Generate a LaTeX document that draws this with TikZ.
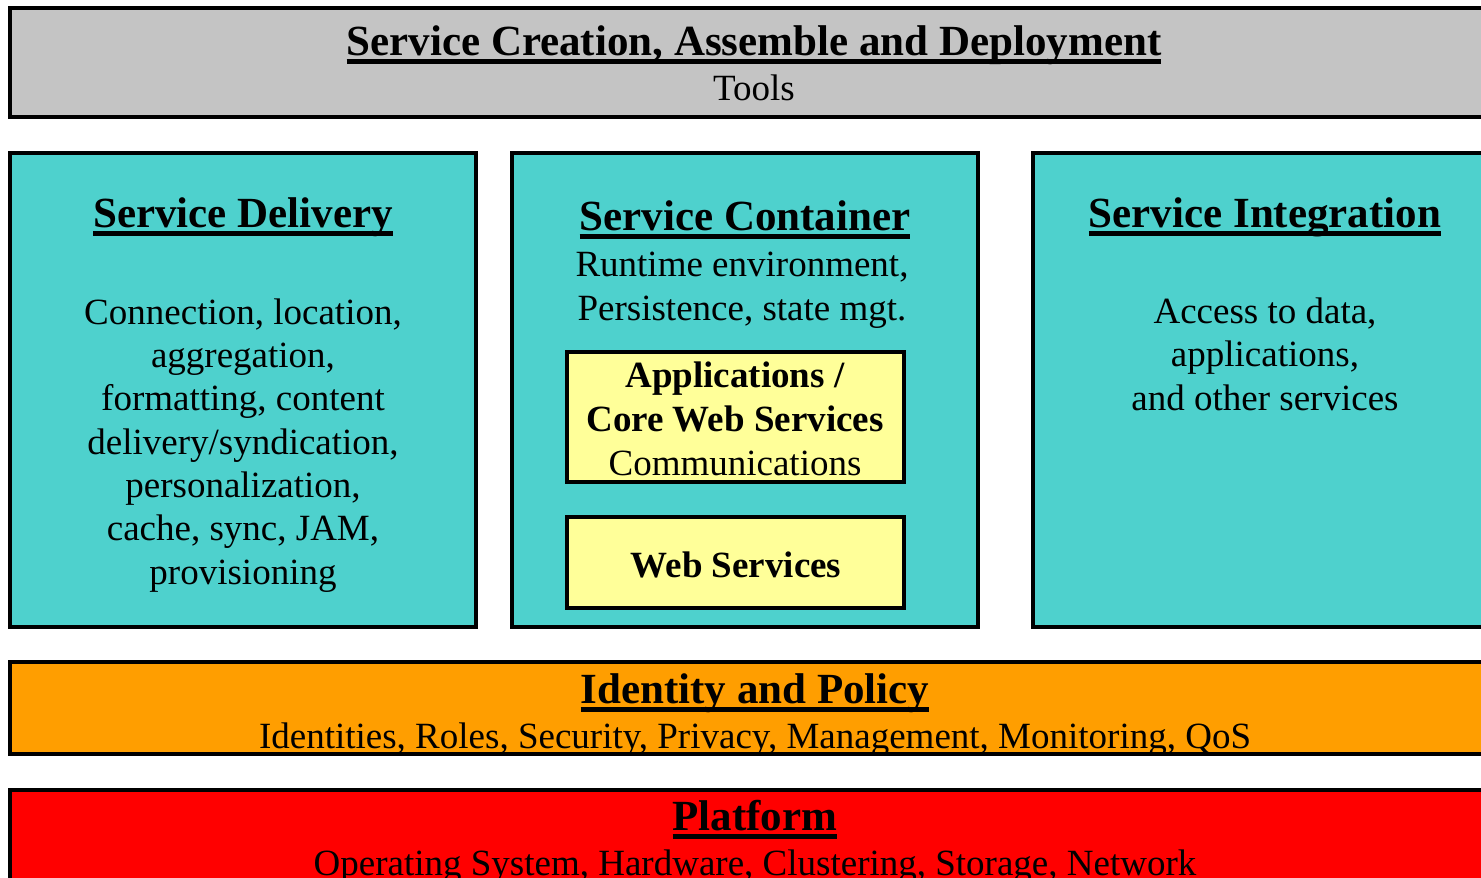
\documentclass[tikz,border=0pt]{standalone}
\usepackage{fontspec}
\setmainfont{Liberation Serif}
\usetikzlibrary{positioning}

\definecolor{toolgray}{RGB}{196,196,196}
\definecolor{svcteal}{RGB}{78,209,205}
\definecolor{wsyellow}{RGB}{255,255,153}
\definecolor{idorange}{RGB}{255,158,0}
\definecolor{platred}{RGB}{255,0,0}

\newsavebox{\ulbox}
\newcommand{\ultitle}[1]{\sbox{\ulbox}{#1}\rlap{\rule[-9pt]{\wd\ulbox}{5pt}}\usebox{\ulbox}}

\tikzset{
  layer/.style={draw=black, line width=4pt},
  ttl/.style={font=\fontsize{43}{48}\selectfont\bfseries, inner sep=0pt, anchor=base},
  txt/.style={font=\fontsize{37}{43.3}\selectfont, inner sep=0pt, anchor=base, align=center},
  btxt/.style={txt, font=\fontsize{37}{43.3}\selectfont\bfseries}
}

\begin{document}
\begin{tikzpicture}[x=1pt,y=-1pt]
  \useasboundingbox (0,0) rectangle (1481,878);
  \clip (0,0) rectangle (1481,878);

  %Werkzeuge oben
  \draw[layer, fill=toolgray] (10,8) rectangle (1500,117);
  \node[ttl] (toolsttl) at (754,55) {\ultitle{Service Creation, Assemble and Deployment}};
  \node[txt] (tools) at (754,100) {Tools};

  %drei Saeulen (mehrzeilig: Basis = letzte Zeile)
  \draw[layer, fill=svcteal] (10,153) rectangle (476,627);
  \draw[layer, fill=svcteal] (512,153) rectangle (978,627);
  \draw[layer, fill=svcteal] (1033,153) rectangle (1500,627);

  \node[ttl] (delivttl) at (243,227) {\ultitle{Service Delivery}};
  \node[txt] (delivtxt) at (243,584) {Connection, location,\\aggregation,\\formatting, content\\delivery/syndication,\\personalization,\\cache, sync, JAM,\\provisioning};

  \node[ttl] (contttl) at (745,230) {\ultitle{Service Container}};
  \node[txt] (conttxt) at (742,320) {Runtime environment,\\Persistence, state mgt.};

  \node[ttl] (integttl) at (1265,227) {\ultitle{Service Integration}};
  \node[txt] (integtxt) at (1265,410) {Access to data,\\applications,\\and other services};

  %Kaesten im Container
  \draw[layer, fill=wsyellow] (567,352) rectangle (904,482);
  \node[btxt] (apps) at (735,431) {Applications /\\Core Web Services};
  \node[txt] (comms) at (735,475) {Communications};
  \draw[layer, fill=wsyellow] (567,517) rectangle (904,608);
  \node[btxt] (websvc) at (736,577) {Web Services};

  %Identitaet
  \draw[layer, fill=idorange] (10,662) rectangle (1500,754);
  \node[ttl] (idttl) at (755,703) {\ultitle{Identity and Policy}};
  \node[txt] (idtxt) at (755,748) {Identities, Roles, Security, Privacy, Management, Monitoring, QoS};

  %Plattform
  \draw[layer, fill=platred] (10,790) rectangle (1500,900);
  \node[ttl] (platttl) at (755,830) {\ultitle{Platform}};
  \node[txt] (plattxt) at (755,875) {Operating System, Hardware, Clustering, Storage, Network};
\end{tikzpicture}
\end{document}
